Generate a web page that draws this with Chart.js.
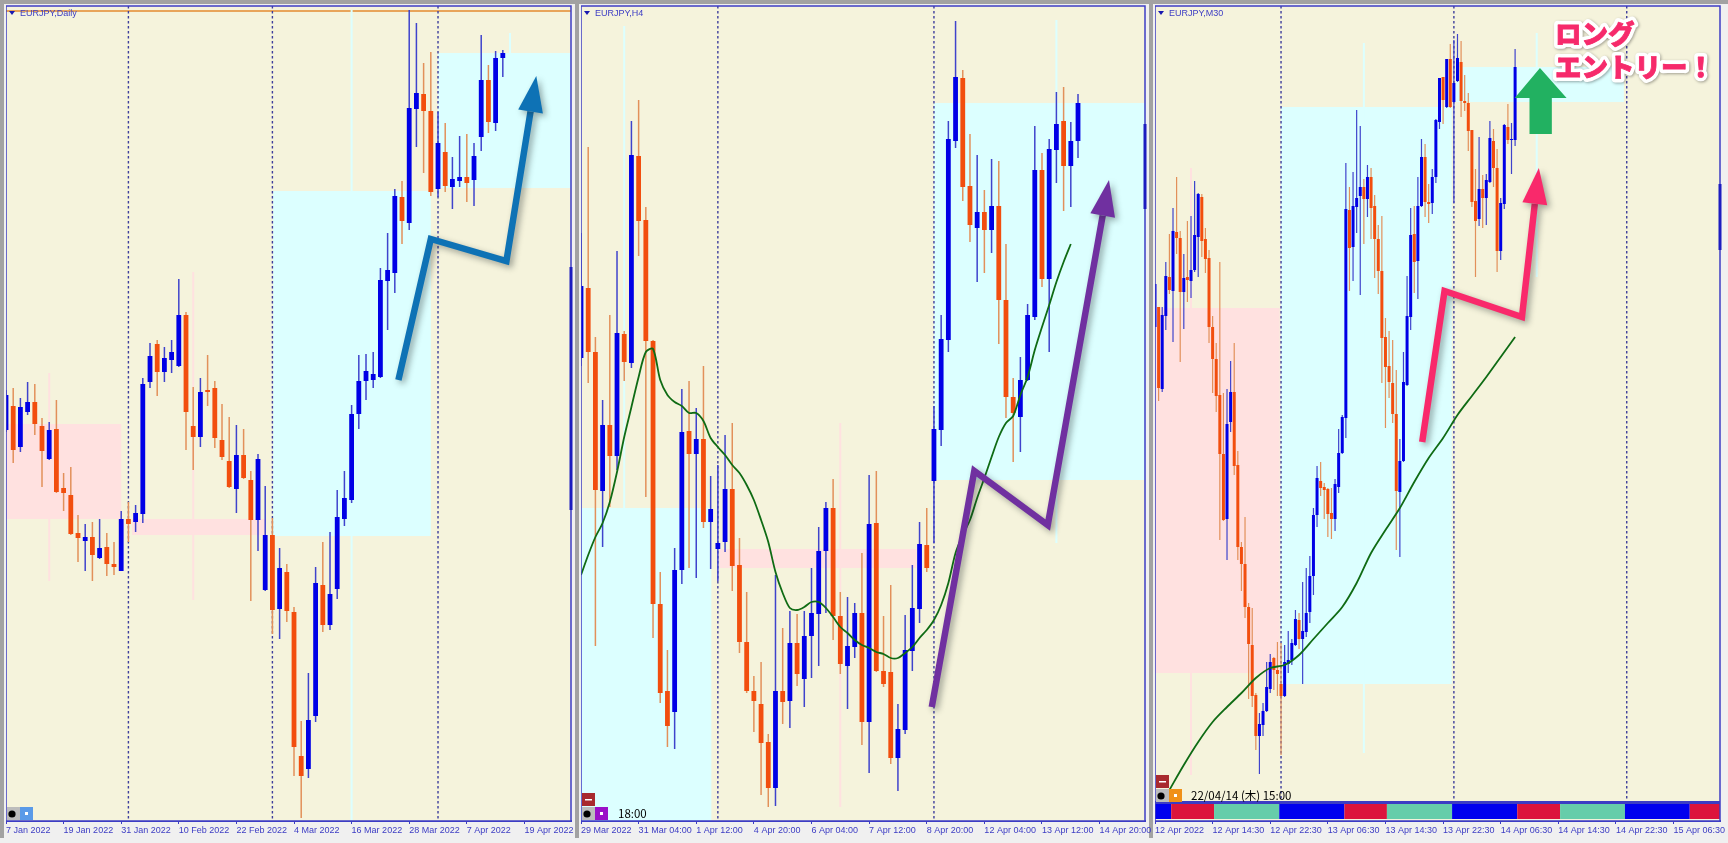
<!DOCTYPE html>
<html>
<head>
<meta charset="utf-8">
<title>EURJPY</title>
<script src="https://cdn.jsdelivr.net/npm/chart.js@4/dist/chart.umd.min.js"></script>
<style>
  html, body { margin: 0; padding: 0; background: #f0f0f0; overflow: hidden; }
  canvas { position: absolute; top: 0; }
  .frame { position: absolute; top: 0; height: 838px; border-left: 4px solid #a2a2a2; border-top: 4px solid #a2a2a2; box-sizing: border-box; }
</style>
</head>
<body>
<div class="frame" style="left:0;width:575px"></div>
<div class="frame" style="left:575px;width:574px"></div>
<div class="frame" style="left:1149px;width:579px"></div>
<canvas id="daily" width="573" height="843" style="left:6px;width:573px;height:843px"></canvas>
<canvas id="h4" width="572" height="843" style="left:581px;width:572px;height:843px"></canvas>
<canvas id="m30" width="573" height="843" style="left:1155px;width:573px;height:843px"></canvas>
<script>
// The screenshot has no price axis, so values are heights above the bottom of each panel
// Daily
const dailyOpen = [391,415,374,409,419,395,362,392,333,326,288,280,284,263,274,257,250,302,299,307,439,477,449,461,455,506,395,384,431,433,381,360,332,366,341,301,231,286,212,249,209,65,52,105,236,196,232,302,321,407,440,441,444,540,548,624,598,712,727,710,632,669,634,640,644,641,684,741,698,763];
const dailyClose = [426,371,414,419,397,370,391,329,328,287,283,284,266,273,257,254,302,297,308,437,465,449,463,469,506,409,384,429,429,383,364,334,366,343,301,362,286,211,253,210,74,45,101,238,196,227,304,323,407,440,450,447,541,551,625,600,713,728,710,629,678,635,642,644,638,665,741,699,763,768];
const dailyHigh = [431,433,423,439,437,403,399,421,348,354,306,297,299,302,288,279,310,319,316,443,478,481,474,481,542,509,434,443,466,440,417,404,396,392,350,367,335,303,273,257,214,100,148,254,279,289,331,350,416,466,467,469,553,588,632,640,811,798,758,769,709,698,664,685,687,678,786,756,770,771];
const dailyLow = [389,358,369,406,386,334,361,328,310,286,259,250,240,262,245,246,250,279,289,298,433,425,439,448,454,371,351,374,415,373,361,333,308,342,220,270,230,187,182,199,45,3,43,99,189,191,222,295,318,392,421,433,443,491,528,577,591,674,648,625,624,629,612,634,619,615,670,688,690,744];
const dailyTicks = ['7 Jan 2022','19 Jan 2022','31 Jan 2022','10 Feb 2022','22 Feb 2022','4 Mar 2022','16 Mar 2022','28 Mar 2022','7 Apr 2022','19 Apr 2022'];
const dailyPink = [[0,16,302,397],[17.5,36,286,302]];
const dailyCyan = [[37.1,59,285,630],[60,78.5,633,768]];
const dailyThinPink = [[6,240,448],[26,221,549]];
const dailyThinCyan = [[48,0,285],[48,630,811],[70,633,788]];
const dailyDashes = [17,37,60];
const dailyEdge = [311,554];
const dailyArrowX = [54.5,59,69.5,73.65];
const dailyArrowV = [441,582,560,745];

// H4
const h4Open = [463,533,469,330,396,365,487,458,665,601,480,217,130,109,251,390,367,382,299,272,279,332,256,179,130,117,79,33,130,120,178,142,185,207,270,313,205,155,174,208,99,298,150,149,63,91,170,212,276,340,391,481,680,743,635,593,609,591,615,521,424,404,441,504,651,542,671,700,655,680];
const h4Close = [535,469,331,396,365,488,459,666,600,480,217,128,95,251,389,367,382,299,312,278,332,255,179,130,120,78,33,130,119,178,147,185,208,270,313,205,157,175,208,99,297,150,137,63,92,171,213,277,253,392,482,682,744,634,596,609,591,615,521,424,408,441,506,651,542,672,697,655,680,718];
const h4High = [588,674,484,421,506,570,490,700,721,614,481,249,171,273,432,440,413,455,345,356,386,398,283,229,145,159,87,246,193,210,207,210,253,294,319,342,229,224,218,268,346,350,205,236,117,206,256,299,313,415,506,700,800,751,687,666,631,662,660,577,443,464,517,695,668,682,729,734,699,727];
const h4Low = [455,438,175,274,314,351,440,453,565,324,183,118,74,72,237,253,243,293,252,240,269,230,168,128,89,26,14,15,97,93,135,114,143,155,208,181,147,112,163,76,48,149,134,57,30,87,150,198,249,278,375,469,673,620,579,539,548,568,477,403,359,369,440,501,534,469,638,610,614,663];
const h4Ma = [246,266,284,298,319,349,384,414,444,469,472,441,426,419,415,408,408,400,383,374,366,356,348,336,321,301,279,249,228,213,211,214,219,219,213,204,194,188,181,176,173,169,167,163,163,168,174,183,191,201,216,238,268,286,301,323,343,364,384,398,405,426,444,471,494,516,539,559,577];
const h4Ticks = ['29 Mar 2022','31 Mar 04:00','1 Apr 12:00','4 Apr 20:00','6 Apr 04:00','7 Apr 12:00','8 Apr 20:00','12 Apr 04:00','13 Apr 12:00','14 Apr 20:00'];
const h4Pink = [[19.2,46.6,253,272]];
const h4Cyan = [[0,18.1,0,313],[49,78.4,341,718]];
const h4ThinPink = [[36,14,398]];
const h4ThinCyan = [[6,313,795],[66,718,801],[66,278,341]];
const h4Dashes = [19,49];
const h4Edge = [612,697];
const h4ArrowX = [48.7,54.6,64.8,73.3];
const h4ArrowV = [114,350,296,641];

// M30
const m30Open = [494,514,432,505,544,530,589,583,529,544,540,551,584,624,582,563,494,462,426,367,302,399,429,356,274,257,214,176,126,85,96,110,132,163,151,137,125,157,161,176,201,182,189,209,245,306,340,334,332,308,302,334,368,403,611,574,614,625,634,622,644,615,582,550,484,455,438,407,329,360,436,504,587,560,615,664,619,618,644,699,744,714,762,719,740,759,720,718,691,620,602,632,623,639,680,653,570,617,694,681,681];
const m30Close = [537,433,506,545,531,590,583,529,543,541,551,586,627,580,562,494,462,425,367,301,397,429,355,274,257,214,177,125,85,97,110,134,159,151,147,125,159,161,178,202,182,190,208,245,306,343,333,331,307,302,337,368,404,612,573,615,623,634,622,644,613,582,550,483,454,439,407,330,360,439,505,586,559,615,664,619,617,644,701,743,721,762,714,738,763,720,718,690,619,600,632,623,641,683,653,570,618,696,681,682,754];
const m30High = [537,514,514,559,587,613,644,590,567,600,605,640,628,627,593,571,505,478,559,428,432,460,478,370,279,304,218,213,128,108,118,159,167,164,179,178,176,190,182,211,208,239,253,265,313,355,359,338,333,333,342,392,406,658,634,649,711,695,642,656,653,626,596,605,503,490,481,451,382,469,545,613,615,644,682,677,637,652,702,743,744,762,777,781,787,780,746,728,691,652,684,646,647,700,692,672,623,697,717,698,772];
const m30Low = [494,420,429,491,527,479,567,459,492,519,523,549,544,564,548,478,428,409,281,300,261,389,346,261,230,203,122,114,71,47,85,109,128,131,125,66,124,148,156,175,172,137,184,198,226,294,325,302,284,282,290,328,367,383,530,540,588,526,577,604,582,543,527,438,393,423,398,271,264,359,435,491,528,522,614,604,598,607,638,692,697,713,713,618,739,704,710,670,614,544,595,593,596,638,634,549,561,612,677,647,675];
const m30MaIndex = [4,8,12,16,20,24,28,32,36,40,44,48,52,56,60,64,68,72,76,80,84,88,92,96,100];
const m30Ma = [31,56,79,99,114,128,143,153,156,166,182,198,214,238,268,291,313,339,363,383,406,425,444,464,484];
const m30Ticks = ['12 Apr 2022','12 Apr 14:30','12 Apr 22:30','13 Apr 06:30','13 Apr 14:30','13 Apr 22:30','14 Apr 06:30','14 Apr 14:30','14 Apr 22:30','15 Apr 06:30'];
const m30Pink = [[0,34.6,148,513]];
const m30Cyan = [[35,82.4,137,714],[83.5,130.2,719,754]];
const m30ThinPink = [[10,46,653]];
const m30ThinCyan = [[58,68,778],[106,544,788]];
const m30Dashes = [35,83,131];
const m30Edge = [571,637];
const m30ArrowX = [74.2,80.4,101.9,106.6];
const m30ArrowV = [379,530,504,653];
const m30UpArrowX = [106.9,114.3,110.2,110.2,104,104,99.9];
const m30UpArrowV = [753,723,723,687,687,723,723];
const m30StripEdges = [0,4.5,16.4,34.5,52.6,64.4,82.5,100.6,112.5,130.5,148.5,156.9];
const m30StripColors = ['#0000ee','#dc143c','#66cdaa','#0000ee','#dc143c','#66cdaa','#0000ee','#dc143c','#66cdaa','#0000ee','#dc143c'];

const AXIS_BLUE = '#3c3cc4';
const UP = '#0000e6', DOWN = '#f24e0e';
const UP_WICK = '#3f43cc', DOWN_WICK = '#e2905a';
const CHART_FONT = "'Liberation Sans', sans-serif";

function polygon(ctx, pts) {
    ctx.beginPath();
    pts.forEach((p, i) => i ? ctx.lineTo(p[0], p[1]) : ctx.moveTo(p[0], p[1]));
    ctx.closePath();
    ctx.fill();
}

// icons in the bottom left corner of each chart
function drawIcons(ctx, left, bottom, accent, hasMinus) {
    ctx.fillStyle = '#bcbcbc';
    ctx.fillRect(left + 1, bottom - 13, 13, 13);
    ctx.fillStyle = '#000';
    ctx.beginPath();
    ctx.arc(left + 6, bottom - 6, 3.6, 0, Math.PI * 2);
    ctx.fill();
    ctx.fillStyle = accent;
    ctx.fillRect(left + 14, bottom - 13, 13, 13);
    ctx.fillStyle = '#fff';
    ctx.fillRect(left + 19, bottom - 8, 3, 3);
    if (hasMinus) {
        ctx.fillStyle = '#a82a2e';
        ctx.fillRect(left + 1, bottom - 27, 13, 13);
        ctx.fillStyle = '#fff';
        ctx.fillRect(left + 4, bottom - 21, 7, 1.5);
    }
}

function drawPanel(id, cfg) {
    const isUp = i => cfg.close[i] >= cfg.open[i];
    const datasets = [
        {
            type: 'bar', order: 3, barThickness: cfg.wickWidth,
            data: cfg.high.map((h, i) => ({ x: i, y: [cfg.low[i], h] })),
            backgroundColor: cfg.high.map((h, i) => isUp(i) ? UP_WICK : DOWN_WICK),
            inflateAmount: 0, borderWidth: 0
        },
        {
            type: 'bar', order: 2, barThickness: cfg.bodyWidth,
            data: cfg.open.map((o, i) => ({ x: i, y: [o, cfg.close[i]] })),
            backgroundColor: cfg.open.map((o, i) => isUp(i) ? UP : DOWN),
            inflateAmount: 0, borderWidth: 0
        }
    ];
    if (cfg.ma) {
        datasets.push({
            type: 'line', order: 1, data: cfg.ma,
            borderColor: '#0f6b14', borderWidth: 1.8, pointRadius: 0, tension: 0.3
        });
    }

    const panelPlugin = {
        id: 'panelDecor',
        beforeDatasetsDraw(chart) {
            const { ctx, chartArea: a, scales: { x, y } } = chart;
            ctx.save();
            ctx.fillStyle = '#f5f3dc';
            ctx.fillRect(a.left, a.top, a.width, a.height);
            const zone = (z, color) => {
                ctx.fillStyle = color;
                ctx.fillRect(x.getPixelForValue(z[0]), y.getPixelForValue(z[3]),
                    x.getPixelForValue(z[1]) - x.getPixelForValue(z[0]),
                    y.getPixelForValue(z[2]) - y.getPixelForValue(z[3]));
            };
            cfg.pink.forEach(z => zone(z, '#ffe1e0'));
            cfg.cyan.forEach(z => zone(z, '#dcffff'));
            if (cfg.topLine) {
                ctx.fillStyle = '#e8a45a';
                ctx.fillRect(a.left, y.getPixelForValue(cfg.topLine) - 1, a.width, 2);
            }
            const thin = (t, color) => {
                ctx.fillStyle = color;
                ctx.fillRect(x.getPixelForValue(t[0]) - 1, y.getPixelForValue(t[2]), 2, y.getPixelForValue(t[1]) - y.getPixelForValue(t[2]));
            };
            cfg.thinPink.forEach(t => thin(t, '#ffe1e0'));
            cfg.thinCyan.forEach(t => thin(t, '#dcffff'));
            ctx.strokeStyle = '#3d3d9c';
            ctx.lineWidth = 1.4;
            ctx.setLineDash([2.5, 2.5]);
            cfg.dashes.forEach(d => {
                ctx.beginPath();
                ctx.moveTo(x.getPixelForValue(d), a.top);
                ctx.lineTo(x.getPixelForValue(d), a.bottom);
                ctx.stroke();
            });
            ctx.restore();
        },
        afterDatasetsDraw(chart) {
            const { ctx, chartArea: a, scales: { x, y } } = chart;
            ctx.save();
            // session strip along the bottom of the M30 chart
            if (cfg.stripEdges) {
                ctx.fillStyle = AXIS_BLUE;
                ctx.fillRect(a.left, y.getPixelForValue(20), a.width, 3);
                cfg.stripColors.forEach((c, i) => {
                    const x0 = x.getPixelForValue(cfg.stripEdges[i]);
                    const x1 = x.getPixelForValue(cfg.stripEdges[i + 1]);
                    ctx.fillStyle = c;
                    ctx.fillRect(x0, y.getPixelForValue(17), x1 - x0, y.getPixelForValue(2) - y.getPixelForValue(17));
                });
            }
            // frame and the bar stuck on the right edge
            ctx.strokeStyle = AXIS_BLUE;
            ctx.lineWidth = 1.5;
            ctx.strokeRect(a.left, a.top, a.width, a.height);
            ctx.fillStyle = '#1c1cc0';
            ctx.fillRect(a.right - 1.5, y.getPixelForValue(cfg.edge[1]), 3, y.getPixelForValue(cfg.edge[0]) - y.getPixelForValue(cfg.edge[1]));
            // drawn-on zigzag arrow
            const pts = cfg.arrowX.map((v, i) => [x.getPixelForValue(v), y.getPixelForValue(cfg.arrowV[i])]);
            const tip = pts[pts.length - 1], prev = pts[pts.length - 2];
            const len = Math.hypot(tip[0] - prev[0], tip[1] - prev[1]);
            const ux = (tip[0] - prev[0]) / len, uy = (tip[1] - prev[1]) / len;
            const baseX = tip[0] - ux * 36, baseY = tip[1] - uy * 36;
            ctx.shadowColor = 'rgba(30,40,40,0.4)';
            ctx.shadowBlur = 6;
            ctx.shadowOffsetX = 3;
            ctx.shadowOffsetY = 3;
            ctx.strokeStyle = cfg.arrowColor;
            ctx.fillStyle = cfg.arrowColor;
            ctx.lineWidth = 6.5;
            ctx.lineJoin = 'miter';
            ctx.beginPath();
            pts.slice(0, -1).forEach((p, i) => i ? ctx.lineTo(p[0], p[1]) : ctx.moveTo(p[0], p[1]));
            ctx.lineTo(baseX, baseY);
            ctx.stroke();
            polygon(ctx, [tip, [baseX - uy * 12.5, baseY + ux * 12.5], [baseX + uy * 12.5, baseY - ux * 12.5]]);
            ctx.shadowColor = 'transparent';
            // green entry arrow
            if (cfg.upX) {
                ctx.fillStyle = '#22b161';
                polygon(ctx, cfg.upX.map((v, i) => [x.getPixelForValue(v), y.getPixelForValue(cfg.upV[i])]));
            }
            // title
            ctx.fillStyle = '#1818b0';
            polygon(ctx, [[a.left + 3, 11], [a.left + 9, 11], [a.left + 6, 15]]);
            ctx.fillStyle = AXIS_BLUE;
            ctx.font = '9px ' + CHART_FONT;
            ctx.textBaseline = 'middle';
            ctx.textAlign = 'left';
            ctx.fillText(cfg.title, a.left + 14, 13.5);
            // icons and clock text
            drawIcons(ctx, a.left, cfg.iconBottom, cfg.iconColor, cfg.hasMinus);
            if (cfg.clock) {
                ctx.fillStyle = '#000';
                ctx.font = "11.5px 'Noto Sans CJK JP'";
                ctx.fillText(cfg.clock, a.left + cfg.clockX, cfg.iconBottom - 6);
            }
            // big call-out
            if (cfg.callout) {
                ctx.font = "900 26.5px 'Noto Sans CJK JP'";
                ctx.lineJoin = 'round';
                ctx.shadowColor = 'rgba(0,0,0,0.35)';
                ctx.shadowBlur = 3;
                ctx.shadowOffsetX = 1;
                ctx.shadowOffsetY = 1;
                cfg.callout.forEach((t, i) => {
                    ctx.strokeStyle = '#fff';
                    ctx.lineWidth = 8;
                    ctx.strokeText(t, a.left + 400, 34 + i * 33);
                });
                ctx.shadowColor = 'transparent';
                ctx.fillStyle = '#f62a6b';
                ctx.strokeStyle = '#f62a6b';
                ctx.lineWidth = 0.8;
                cfg.callout.forEach((t, i) => {
                    ctx.fillText(t, a.left + 400, 34 + i * 33);
                    ctx.strokeText(t, a.left + 400, 34 + i * 33);
                });
            }
            ctx.restore();
        }
    };

    new Chart(document.getElementById(id), {
        data: { datasets: datasets },
        plugins: [panelPlugin],
        options: {
            responsive: false,
            animation: false,
            devicePixelRatio: 1,
            grouped: false,
            layout: { padding: { left: 0, right: 8, top: 6, bottom: 0 } },
            plugins: { legend: { display: false }, tooltip: { enabled: false } },
            scales: {
                x: {
                    type: 'linear',
                    min: 0,
                    max: cfg.slots,
                    offset: false,
                    afterFit(scale) {
                        scale.height = 22;
                        scale.paddingLeft = 0;
                        scale.paddingRight = 0;
                    },
                    border: { color: AXIS_BLUE, width: 2 },
                    grid: { drawOnChartArea: false, offset: false, color: AXIS_BLUE, tickLength: 3 },
                    ticks: {
                        stepSize: cfg.tickStep,
                        includeBounds: false,
                        autoSkip: false,
                        maxRotation: 0,
                        align: 'start',
                        padding: 1,
                        color: AXIS_BLUE,
                        font: { family: CHART_FONT, size: 9 },
                        callback: v => cfg.ticks[v / cfg.tickStep]
                    }
                },
                y: { display: false, min: 0, max: 815 }
            }
        }
    });
}

drawPanel('daily', {
    open: dailyOpen, close: dailyClose, high: dailyHigh, low: dailyLow,
    ticks: dailyTicks, tickStep: 8, slots: 78.47, bodyWidth: 4.8, wickWidth: 1.5,
    pink: dailyPink, cyan: dailyCyan, thinPink: dailyThinPink, thinCyan: dailyThinCyan,
    dashes: dailyDashes, edge: dailyEdge, topLine: 810,
    arrowX: dailyArrowX, arrowV: dailyArrowV, arrowColor: '#0e72b5',
    title: 'EURJPY,Daily', iconBottom: 820, iconColor: '#5a9ae8'
});

drawPanel('h4', {
    open: h4Open, close: h4Close, high: h4High, low: h4Low,
    ma: h4Ma.map((v, i) => ({ x: i, y: v })),
    ticks: h4Ticks, tickStep: 8, slots: 78.3, bodyWidth: 4.8, wickWidth: 1.5,
    pink: h4Pink, cyan: h4Cyan, thinPink: h4ThinPink, thinCyan: h4ThinCyan,
    dashes: h4Dashes, edge: h4Edge,
    arrowX: h4ArrowX, arrowV: h4ArrowV, arrowColor: '#7030a0',
    title: 'EURJPY,H4', iconBottom: 820, iconColor: '#9a10c8', hasMinus: true,
    clock: '18:00', clockX: 37
});

drawPanel('m30', {
    open: m30Open, close: m30Close, high: m30High, low: m30Low,
    ma: m30Ma.map((v, i) => ({ x: m30MaIndex[i], y: v })),
    ticks: m30Ticks, tickStep: 16, slots: 156.9, bodyWidth: 3, wickWidth: 1.2,
    pink: m30Pink, cyan: m30Cyan, thinPink: m30ThinPink, thinCyan: m30ThinCyan,
    dashes: m30Dashes, edge: m30Edge,
    arrowX: m30ArrowX, arrowV: m30ArrowV, arrowColor: '#f9296b',
    upX: m30UpArrowX, upV: m30UpArrowV,
    stripEdges: m30StripEdges, stripColors: m30StripColors,
    title: 'EURJPY,M30', iconBottom: 802, iconColor: '#f09018', hasMinus: true,
    clock: '22/04/14 (木) 15:00', clockX: 36,
    callout: ['ロング', 'エントリー！']
});
</script>
</body>
</html>
